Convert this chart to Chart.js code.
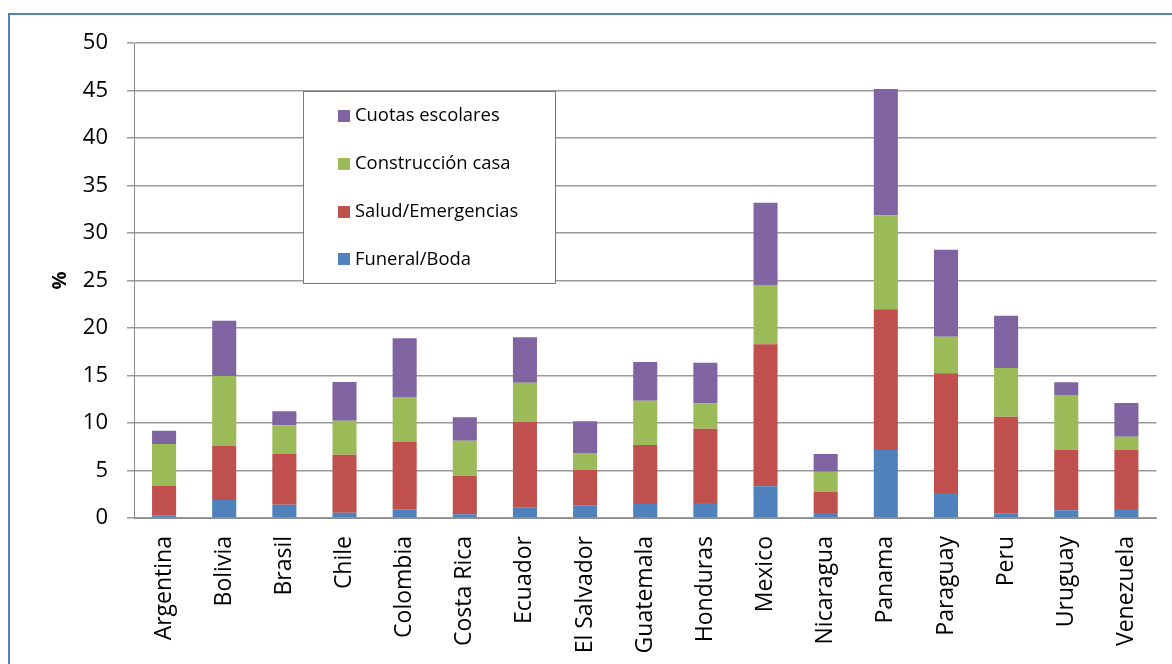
<!DOCTYPE html>
<html>
<head>
<meta charset="utf-8">
<script src="https://cdn.jsdelivr.net/npm/chart.js@4.4.0/dist/chart.umd.min.js"></script>
<style>
    html, body { margin: 0; padding: 0; background: #fff; overflow: hidden; }
    #wrap { position: relative; width: 1172px; height: 664px; }
</style>
</head>
<body>
<div id="wrap"><canvas id="chart" width="1172" height="664"></canvas></div>
<script>
const countries = ["Argentina", "Bolivia", "Brasil", "Chile", "Colombia", "Costa Rica", "Ecuador",
    "El Salvador", "Guatemala", "Honduras", "Mexico", "Nicaragua", "Panama", "Paraguay", "Peru",
    "Uruguay", "Venezuela"];

const funeralBoda = [0.28, 1.89, 1.40, 0.56, 0.91, 0.39, 1.12, 1.33, 1.47, 1.58, 3.33, 0.53, 7.16, 2.63, 0.49, 0.81, 0.95];
const saludEmergencias = [3.09, 5.69, 5.34, 6.11, 7.13, 4.07, 9.02, 3.76, 6.21, 7.82, 14.95, 2.24, 14.81, 12.60, 10.17, 6.38, 6.24];
const construccionCasa = [4.42, 7.37, 3.02, 3.57, 4.70, 3.68, 4.11, 1.75, 4.67, 2.67, 6.25, 2.11, 9.89, 3.86, 5.13, 5.76, 1.37];
const cuotasEscolares = [1.40, 5.82, 1.47, 4.08, 6.17, 2.46, 4.77, 3.34, 4.07, 4.28, 8.66, 1.86, 13.30, 9.15, 5.51, 1.33, 3.54];

const FONT = "'Open Sans', 'Noto Sans', sans-serif";

// outer frame of the chart (only left and top edges are inside the canvas)
const framePlugin = {
    id: "frame",
    beforeDraw(chart) {
        const ctx = chart.ctx;
        ctx.save();
        ctx.strokeStyle = "#4F81BD";
        ctx.lineWidth = 2;
        ctx.beginPath();
        ctx.moveTo(9, 700);
        ctx.lineTo(9, 14);
        ctx.lineTo(1200, 14);
        ctx.stroke();
        ctx.restore();
    }
};

// boxed legend sitting inside the plot area, series listed top-down in reverse order
const boxLegendPlugin = {
    id: "boxLegend",
    afterDatasetsDraw(chart) {
        const ctx = chart.ctx;
        const box = { x: 303, y: 91, w: 252, h: 192 };
        ctx.save();
        ctx.fillStyle = "#fff";
        ctx.fillRect(box.x, box.y, box.w, box.h);
        ctx.strokeStyle = "#4F81BD";
        ctx.lineWidth = 1;
        ctx.strokeRect(box.x + 0.5, box.y + 0.5, box.w, box.h);

        ctx.font = "18.4px " + FONT;
        ctx.textBaseline = "middle";
        ctx.textAlign = "left";
        const items = chart.data.datasets.slice().reverse();
        items.forEach((ds, i) => {
            const cy = 116 + i * 47.8;
            ctx.fillStyle = ds.backgroundColor;
            ctx.fillRect(338, Math.round(cy - 6), 12, 12);
            ctx.fillStyle = "#000";
            ctx.fillText(ds.label, 355, cy);
        });
        ctx.restore();
    }
};

function makeDataset(label, data, color) {
    return {
        label: label,
        data: data,
        backgroundColor: color,
        borderWidth: 0,
        barPercentage: 0.4,
        categoryPercentage: 1.0
    };
}

new Chart(document.getElementById("chart").getContext("2d"), {
    type: "bar",
    data: {
        labels: countries,
        datasets: [
            makeDataset("Funeral/Boda", funeralBoda, "#4F81BD"),
            makeDataset("Salud/Emergencias", saludEmergencias, "#C0504D"),
            makeDataset("Construcción casa", construccionCasa, "#9BBB59"),
            makeDataset("Cuotas escolares", cuotasEscolares, "#8064A2")
        ]
    },
    options: {
        responsive: false,
        animation: false,
        events: [],
        layout: {
            padding: { top: 43, right: 0, bottom: 0, left: 0 }
        },
        plugins: {
            legend: { display: false },
            tooltip: { enabled: false }
        },
        scales: {
            x: {
                stacked: true,
                grid: { display: false, drawTicks: false },
                border: { display: true, color: "#8c8c8c", width: 1 },
                ticks: {
                    color: "#000",
                    font: { family: FONT, size: 23 },
                    minRotation: 90,
                    maxRotation: 90,
                    autoSkip: false,
                    padding: 18
                },
                afterFit(scale) {
                    scale.height = 146;
                }
            },
            y: {
                stacked: true,
                min: 0,
                max: 50,
                grid: {
                    color: "#9a9a9a",
                    lineWidth: 1.5,
                    drawTicks: true,
                    tickLength: 7
                },
                border: { display: true, color: "#8c8c8c", width: 1 },
                ticks: {
                    stepSize: 5,
                    color: "#000",
                    font: { family: FONT, size: 22 },
                    padding: 19
                },
                title: {
                    display: true,
                    text: "%",
                    color: "#000",
                    font: { family: FONT, size: 20, weight: "bold" },
                    padding: { top: 48, bottom: 0 }
                },
                afterFit(scale) {
                    scale.width = 134;
                }
            }
        }
    },
    plugins: [framePlugin, boxLegendPlugin]
});
</script>
</body>
</html>
